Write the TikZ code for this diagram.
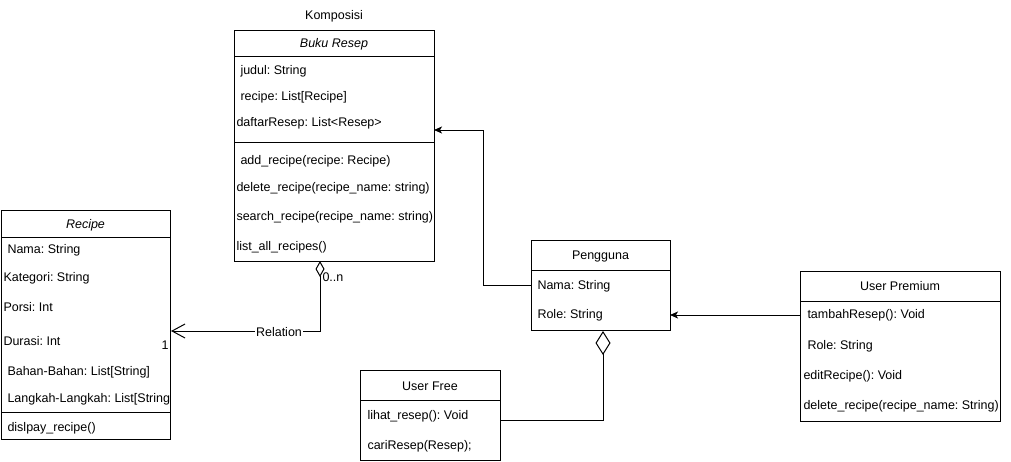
\documentclass[tikz,border=0pt]{standalone}
\usepackage{fontspec}
\setmainfont{Liberation Sans}
\usetikzlibrary{arrows.meta}
\frenchspacing
\begin{document}
\begin{tikzpicture}[x=1pt,y=-1pt,line width=1pt,
  txt/.style={inner sep=0pt,font=\fontsize{12.5}{14}\selectfont},
  row/.style={txt,anchor=west},
  head/.style={txt,anchor=center},
  ital/.style={txt,anchor=center,font=\fontsize{12.5}{14}\selectfont\itshape},
  classbox/.style={draw,line width=1pt,inner sep=0pt,anchor=north west},
  conn/.style={draw,line width=1pt},
  filledtip/.style={-{Stealth[length=8pt,width=7pt,inset=2pt]}}
]
\useasboundingbox (0,0) rectangle (1011,461);

% ---------- Buku Resep ----------
\node[txt] (komp) at (334,16) {Komposisi};
\node[classbox,minimum width=200pt,minimum height=231pt] (buku) at (234,30) {};
\draw ([yshift=-26pt]buku.north west) -- ([yshift=-26pt]buku.north east);
\draw ([yshift=-112pt]buku.north west) -- ([yshift=-112pt]buku.north east);
\node[ital] (bukuT) at (334,44) {Buku Resep};
\node[row] (b1) at (240,71) {judul: String};
\node[row] (b2) at (240,97) {recipe: List[Recipe]};
\node[row] (b3) at (236,123) {daftarResep: List<Resep>};
\node[row] (b4) at (240,161) {add\_recipe(recipe: Recipe)};
\node[row] (b5) at (236,188) {delete\_recipe(recipe\_name: string)};
\node[row] (b6) at (236,217) {search\_recipe(recipe\_name: string)};
\node[row] (b7) at (236,247) {list\_all\_recipes()};

% ---------- Recipe ----------
\node[classbox,minimum width=169pt,minimum height=229pt] (recipe) at (1,210) {};
\draw ([yshift=-27pt]recipe.north west) -- ([yshift=-27pt]recipe.north east);
\draw ([yshift=-202pt]recipe.north west) -- ([yshift=-202pt]recipe.north east);
\node[ital] (recipeT) at (85.5,225) {Recipe};
\node[row] (r1) at (7,250) {Nama: String};
\node[row] (r2) at (3,278) {Kategori: String};
\node[row] (r3) at (3,307) {Porsi: Int};
\node[row] (r4) at (3,341) {Durasi: Int};
\node[row] (r5) at (7,372) {Bahan-Bahan: List[String]};
\node[row] (r6) at (7,399) {Langkah-Langkah: List[String};
\node[row] (r7) at (7,428) {dislpay\_recipe()};

% ---------- Pengguna ----------
\node[classbox,minimum width=139pt,minimum height=90pt] (peng) at (531,240) {};
\draw ([yshift=-30pt]peng.north west) -- ([yshift=-30pt]peng.north east);
\node[head] (pengT) at (600.5,256) {Pengguna};
\node[row] (p1) at (537,286) {Nama: String};
\node[row] (p2) at (537,315) {Role: String};

% ---------- User Free ----------
\node[classbox,minimum width=140pt,minimum height=90pt] (ufree) at (360,370) {};
\draw ([yshift=-30pt]ufree.north west) -- ([yshift=-30pt]ufree.north east);
\node[head] (ufreeT) at (430,386) {User Free};
\node[row] (f1) at (367,416) {lihat\_resep(): Void};
\node[row] (f2) at (367,446) {cariResep(Resep);};

% ---------- User Premium ----------
\node[classbox,minimum width=200pt,minimum height=150pt] (uprem) at (800,271) {};
\draw ([yshift=-30pt]uprem.north west) -- ([yshift=-30pt]uprem.north east);
\node[head] (upremT) at (900,286) {User Premium};
\node[row] (u1) at (807,315) {tambahResep(): Void};
\node[row] (u2) at (807,346) {Role: String};
\node[row] (u3) at (803,376) {editRecipe(): Void};
\node[row] (u4) at (803,406) {delete\_recipe(recipe\_name: String)};

% ---------- connectors ----------
\coordinate (relA) at (320,261);
\coordinate (relB) at (171,331);
\draw[conn,{Diamond[open,fill=white,length=16pt,width=9pt]}-{Straight Barb[length=13pt,width=14pt]}] (relA) |- (relB);
\node[txt,fill=white,inner xsep=1pt] (relL) at (279,332) {Relation};
\node[txt,anchor=west] (mult0) at (322,277) {0..n};
\node[txt] (mult1) at (165,345) {1};

\coordinate (bIn) at (434,130);
\draw[conn,filledtip] (peng.west) -- ++(-48,0) |- (bIn);

\coordinate (upOut) at (800,315);
\coordinate (pgIn) at (670,315);
\draw[conn,filledtip] (upOut) -- (pgIn);

\coordinate (ufOut) at (500,420);
\coordinate (pgBot) at (603,331);
\draw[conn,-{Diamond[open,fill=white,length=24pt,width=15pt]}] (ufOut) -| (pgBot);
\end{tikzpicture}
\end{document}
